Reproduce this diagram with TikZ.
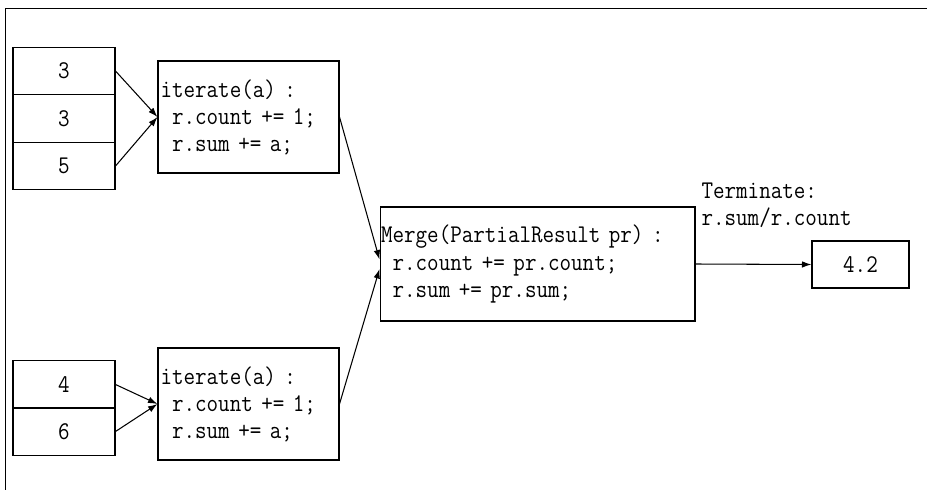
\documentclass[tikz,border=0pt]{standalone}
\usepackage{fontspec}
\setmonofont{Latin Modern Mono}[FakeStretch=0.88]
\usetikzlibrary{arrows.meta}

\begin{document}
\begin{tikzpicture}[x=0.02cm,y=-0.02cm,->,>={Latex[length=1.9mm,width=1.3mm]},line width=0.6pt,font=\ttfamily\fontsize{14.5}{15.4}\selectfont]
	\def \colin{64}
	\def \colit{248.5}
	\def \colmg{537.5}
	\def \colout{860.5}
	\tikzstyle{in-node}=[rectangle,draw=black!100,minimum width=2.04cm,minimum height=0.95cm,inner sep=0pt]
	\tikzstyle{it-node}=[rectangle,draw=black!100,minimum width=3.62cm,minimum height=2.24cm,inner xsep=0.05cm,text width=3.52cm,align=left]
	\tikzstyle{mg-node}=[rectangle,draw=black!100,minimum width=6.3cm,minimum height=2.28cm,inner xsep=0.02cm,text width=6.26cm,align=left]
	\tikzstyle{out-node}=[rectangle,draw=black!100,minimum width=1.94cm,minimum height=0.94cm,inner sep=0pt]
	\tikzstyle{annot}=[anchor=west,inner sep=0pt,align=left]
	\useasboundingbox (0,0) rectangle (927,490);
	\draw[-] (5.5,490) |- (927,8.5);

	% first input values
	\node[in-node]	(a1)	at (\colin,71)		{3};
	\node[in-node]	(a2)	at (\colin,118.5)	{3};
	\node[in-node]	(a3)	at (\colin,166)		{5};

	% second input values
	\node[in-node]	(b1)	at (\colin,384.5)	{4};
	\node[in-node]	(b2)	at (\colin,431.5)	{6};

	% iterate steps
	\node[it-node]	(it1)	at (\colit,117)		{iterate(a) :\\\phantom{r}r.count += 1;\\\phantom{r}r.sum += a;};
	\node[it-node]	(it2)	at (\colit,404)		{iterate(a) :\\\phantom{r}r.count += 1;\\\phantom{r}r.sum += a;};

	% merge and result
	\node[mg-node]	(mg)	at (\colmg,264)		{Merge(PartialResult pr) :\\\phantom{r}r.count += pr.count;\\\phantom{r}r.sum += pr.sum;};
	\node[out-node]	(res)	at (\colout,264.5)	{4.2};
	\node[annot]	(term)	at (701,205.5)		{Terminate:\\r.sum/r.count};

	\path
		(a1.east)	edge	(it1.west)
		(a3.east)	edge	(it1.west)
		%
		(b1.east)	edge	(it2.west)
		(b2.east)	edge	(it2.west)
		%
		(it1.east)	edge	([yshift=0.09cm]mg.west)
		(it2.east)	edge	([yshift=-0.1cm]mg.west)
		%
		(mg.east)	edge	(res.west);
\end{tikzpicture}
\end{document}
